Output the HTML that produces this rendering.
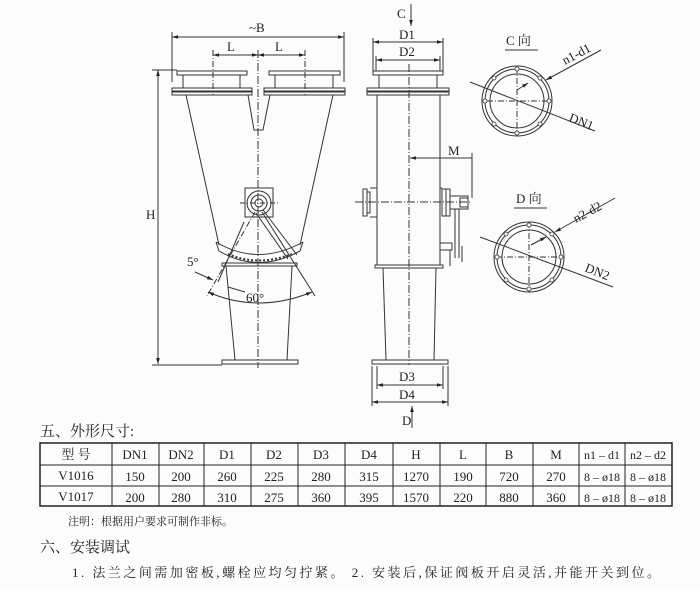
<!DOCTYPE html>
<html><head><meta charset="utf-8">
<style>
html,body{margin:0;padding:0;background:#fcfcfc;}
svg{display:block;}
text{font-family:"Liberation Serif","Noto Serif CJK SC",serif;fill:#222;}
.cj{font-family:"Liberation Serif","Noto Serif CJK SC",serif;}
</style></head>
<body>
<svg width="700" height="589" viewBox="0 0 700 589" xmlns="http://www.w3.org/2000/svg">
<defs>
<marker id="a" viewBox="0 0 10 10" refX="10" refY="5" markerWidth="6" markerHeight="6" orient="auto-start-reverse"><path d="M0,2 L10,5 L0,8 z" fill="#222"/></marker>
</defs>
<rect width="700" height="589" fill="#fcfcfc"/>
<g stroke="#333" stroke-width="1" fill="none">
<!-- FRONT VIEW -->
<line x1="172" y1="37" x2="344" y2="37" marker-start="url(#a)" marker-end="url(#a)"/>
<line x1="172" y1="32" x2="172" y2="82"/><line x1="344" y1="32" x2="344" y2="82"/>
<line x1="213" y1="55" x2="258" y2="55" marker-start="url(#a)" marker-end="url(#a)"/>
<line x1="258" y1="55" x2="305" y2="55" marker-start="url(#a)" marker-end="url(#a)"/>
<line x1="213" y1="50" x2="213" y2="95" stroke-dasharray="6,2,1,2"/>
<line x1="305" y1="50" x2="305" y2="95" stroke-dasharray="6,2,1,2"/>
<line x1="258" y1="50" x2="258" y2="368" stroke-dasharray="8,2,1,2"/>
<rect x="177" y="71" width="70" height="4"/><rect x="269" y="71" width="71" height="4"/>
<line x1="183" y1="75" x2="183" y2="88"/><line x1="240" y1="75" x2="240" y2="88"/>
<line x1="275" y1="75" x2="275" y2="88"/><line x1="333" y1="75" x2="333" y2="88"/>
<rect x="172" y="88" width="80" height="3"/><rect x="172" y="92" width="80" height="3"/>
<rect x="264" y="88" width="81" height="3"/><rect x="264" y="92" width="81" height="3"/>
<line x1="186" y1="95" x2="219" y2="245"/><line x1="333" y1="95" x2="300" y2="245"/>
<polyline points="248,95 254,130 263,130 270,95"/>
<rect x="245" y="188" width="28" height="29"/>
<circle cx="259" cy="203" r="12"/><circle cx="259" cy="203" r="8"/><circle cx="259" cy="203" r="4"/>
<line x1="240" y1="203" x2="280" y2="203" stroke-dasharray="5,2,1,2"/>
<path d="M216,242 Q258,267 303,242"/><path d="M219,251 Q258,274 300,251"/>
<line x1="216" y1="242" x2="219" y2="251"/><line x1="303" y1="242" x2="300" y2="251"/>
<path d="M228,254 Q258,267 292,254" stroke-dasharray="2,2" stroke-width="2"/>
<line x1="263" y1="210" x2="297" y2="255"/><line x1="256" y1="213" x2="288" y2="259"/>
<rect x="222" y="263" width="75" height="3"/>
<line x1="226" y1="266" x2="235" y2="360"/><line x1="292" y1="266" x2="287" y2="360"/>
<rect x="222" y="360" width="76" height="4"/>
<line x1="255" y1="212" x2="207" y2="296" stroke-dasharray="6,2,1,2"/>
<line x1="262" y1="212" x2="315" y2="296"/>
<line x1="244" y1="222" x2="218" y2="282"/>
<path d="M208,292 Q258,314 312,292" marker-start="url(#a)" marker-end="url(#a)"/>
<line x1="195" y1="272" x2="213" y2="280" marker-end="url(#a)"/>
<line x1="228" y1="287" x2="245" y2="292"/>
<line x1="158" y1="70" x2="158" y2="364" marker-start="url(#a)" marker-end="url(#a)"/>
<line x1="152" y1="70" x2="177" y2="70"/><line x1="152" y1="365" x2="222" y2="365"/>
<!-- SIDE VIEW -->
<line x1="411" y1="4" x2="411" y2="26" marker-end="url(#a)"/>
<line x1="373" y1="42" x2="443" y2="42" marker-start="url(#a)" marker-end="url(#a)"/>
<line x1="376" y1="60" x2="440" y2="60" marker-start="url(#a)" marker-end="url(#a)"/>
<line x1="373" y1="38" x2="373" y2="71"/><line x1="443" y1="38" x2="443" y2="71"/>
<line x1="376" y1="56" x2="376" y2="71"/><line x1="440" y1="56" x2="440" y2="71"/>
<line x1="409" y1="64" x2="409" y2="365" stroke-dasharray="8,2,1,2"/>
<rect x="373" y="71" width="70" height="4"/>
<line x1="379" y1="75" x2="379" y2="88"/><line x1="437" y1="75" x2="437" y2="88"/>
<rect x="367" y="88" width="82" height="3"/><rect x="367" y="92" width="82" height="3"/>
<line x1="377" y1="95" x2="377" y2="265"/><line x1="440" y1="95" x2="440" y2="265"/>
<rect x="375" y="265" width="68" height="3"/>
<line x1="383" y1="268" x2="386" y2="360"/><line x1="436" y1="268" x2="434" y2="360"/>
<rect x="372" y="360" width="76" height="4"/>
<rect x="363" y="189" width="4" height="27"/><rect x="367" y="192" width="3" height="21"/><line x1="370" y1="188" x2="377" y2="188"/><line x1="370" y1="217" x2="377" y2="217"/>
<rect x="442" y="189" width="4" height="27"/><rect x="446" y="189" width="4" height="27"/><line x1="440" y1="188" x2="442" y2="188"/>
<rect x="450" y="196" width="18" height="13"/><rect x="460" y="198" width="8" height="9"/>
<line x1="455" y1="209" x2="455" y2="258"/><line x1="459" y1="209" x2="459" y2="258"/>
<polyline points="440,243 452,243 452,250 440,250"/>
<line x1="450" y1="250" x2="450" y2="266"/><line x1="462" y1="246" x2="462" y2="262"/>
<line x1="355" y1="202" x2="472" y2="202" stroke-dasharray="8,2,1,2"/>
<line x1="410" y1="158" x2="472" y2="158" marker-start="url(#a)"/>
<line x1="472" y1="153" x2="472" y2="198"/>
<line x1="377" y1="385" x2="443" y2="385" marker-start="url(#a)" marker-end="url(#a)"/>
<line x1="372" y1="402" x2="448" y2="402" marker-start="url(#a)" marker-end="url(#a)"/>
<line x1="377" y1="366" x2="377" y2="389"/><line x1="443" y1="366" x2="443" y2="389"/>
<line x1="372" y1="366" x2="372" y2="406"/><line x1="448" y1="366" x2="448" y2="406"/>
<line x1="412" y1="428" x2="412" y2="406" marker-end="url(#a)"/>
<!-- C view -->
<line x1="505" y1="50" x2="538" y2="50"/>
<circle cx="517" cy="101" r="35"/><circle cx="517" cy="101" r="32"/><circle cx="517" cy="101" r="27"/>
<line x1="487" y1="101" x2="549" y2="101" stroke-dasharray="6,2,1,2"/>
<line x1="517" y1="67" x2="517" y2="136" stroke-dasharray="6,2,1,2"/>
<line x1="470" y1="82" x2="595" y2="131"/>
<line x1="601" y1="50" x2="546" y2="80" marker-end="url(#a)"/>
<line x1="517" y1="90" x2="528" y2="83" marker-end="url(#a)"/>
<!-- D view -->
<line x1="514" y1="208" x2="547" y2="208"/>
<circle cx="529" cy="257" r="35"/><circle cx="529" cy="257" r="32"/><circle cx="529" cy="257" r="27"/>
<line x1="496" y1="257" x2="564" y2="257" stroke-dasharray="6,2,1,2"/>
<line x1="529" y1="222" x2="529" y2="292" stroke-dasharray="6,2,1,2"/>
<line x1="480" y1="237" x2="613" y2="287"/>
<line x1="615" y1="198" x2="555" y2="232" marker-end="url(#a)"/>
<line x1="531" y1="245" x2="546" y2="237" marker-end="url(#a)"/>
</g>
<g fill="#fff" stroke="#333" stroke-width="0.8">
<circle cx="517" cy="69" r="2"/><circle cx="517" cy="133" r="2"/><circle cx="485" cy="101" r="2"/><circle cx="549" cy="101" r="2"/>
<circle cx="494" cy="78" r="2"/><circle cx="540" cy="78" r="2"/><circle cx="494" cy="124" r="2"/><circle cx="540" cy="124" r="2"/>
<circle cx="529" cy="225" r="2"/><circle cx="529" cy="289" r="2"/><circle cx="497" cy="257" r="2"/><circle cx="561" cy="257" r="2"/>
<circle cx="506" cy="234" r="2"/><circle cx="552" cy="234" r="2"/><circle cx="506" cy="280" r="2"/><circle cx="552" cy="280" r="2"/>
</g>
<g font-size="13">
<text x="249" y="32">~B</text>
<text x="227" y="51">L</text><text x="275" y="51">L</text>
<text x="146" y="219">H</text>
<text x="187" y="266">5°</text>
<text x="246" y="302">60°</text>
<text x="397" y="18">C</text>
<text x="399" y="39">D1</text><text x="399" y="56">D2</text>
<text x="448" y="155">M</text>
<text x="399" y="381">D3</text><text x="399" y="399">D4</text>
<text x="402" y="425">D</text>
<text x="506" y="45" class="cj">C 向</text>
<text x="516" y="203" class="cj">D 向</text>
<text x="565" y="65" transform="rotate(-28 565 65)">n1-d1</text>
<text x="568" y="121" transform="rotate(22 568 121)">DN1</text>
<text x="576" y="223" transform="rotate(-28 576 223)">n2-d2</text>
<text x="584" y="271" transform="rotate(22 584 271)">DN2</text>
</g>
<text x="40" y="436" font-size="15" class="cj">五、外形尺寸:</text>
<g stroke="#222" fill="none">
<rect x="40" y="443" width="632" height="63" stroke-width="1.5"/>
<line x1="40" y1="465" x2="672" y2="465"/><line x1="40" y1="486" x2="672" y2="486"/>
<line x1="112" y1="443" x2="112" y2="506"/><line x1="159" y1="443" x2="159" y2="506"/>
<line x1="204" y1="443" x2="204" y2="506"/><line x1="251" y1="443" x2="251" y2="506"/>
<line x1="298" y1="443" x2="298" y2="506"/><line x1="345" y1="443" x2="345" y2="506"/>
<line x1="393" y1="443" x2="393" y2="506"/><line x1="440" y1="443" x2="440" y2="506"/>
<line x1="486" y1="443" x2="486" y2="506"/><line x1="533" y1="443" x2="533" y2="506"/>
<line x1="579" y1="443" x2="579" y2="506"/><line x1="625" y1="443" x2="625" y2="506"/>
</g>
<g font-size="13" text-anchor="middle">
<text x="76" y="459" class="cj">型 号</text><text x="135" y="459">DN1</text><text x="181" y="459">DN2</text><text x="227" y="459">D1</text><text x="274" y="459">D2</text><text x="321" y="459">D3</text><text x="369" y="459">D4</text><text x="416" y="459">H</text><text x="463" y="459">L</text><text x="509" y="459">B</text><text x="556" y="459">M</text><text x="602" y="459" font-size="12">n1 – d1</text><text x="648" y="459" font-size="12">n2 – d2</text>
<text x="76" y="480">V1016</text><text x="135" y="481">150</text><text x="181" y="481">200</text><text x="227" y="481">260</text><text x="274" y="481">225</text><text x="321" y="481">280</text><text x="369" y="481">315</text><text x="416" y="481">1270</text><text x="463" y="481">190</text><text x="509" y="481">720</text><text x="556" y="481">270</text><text x="602" y="481" font-size="12">8 – ø18</text><text x="648" y="481" font-size="12">8 – ø18</text>
<text x="76" y="501">V1017</text><text x="135" y="502">200</text><text x="181" y="502">280</text><text x="227" y="502">310</text><text x="274" y="502">275</text><text x="321" y="502">360</text><text x="369" y="502">395</text><text x="416" y="502">1570</text><text x="463" y="502">220</text><text x="509" y="502">880</text><text x="556" y="502">360</text><text x="602" y="502" font-size="12">8 – ø18</text><text x="648" y="502" font-size="12">8 – ø18</text>
</g>
<text x="68" y="525" font-size="11" class="cj">注明：根据用户要求可制作非标。</text>
<text x="40" y="552" font-size="15" class="cj">六、安装调试</text>
<text x="72" y="577" font-size="13" class="cj" textLength="588">1. 法兰之间需加密板,螺栓应均匀拧紧。 2. 安装后,保证阀板开启灵活,并能开关到位。</text>
</svg>
</body></html>
